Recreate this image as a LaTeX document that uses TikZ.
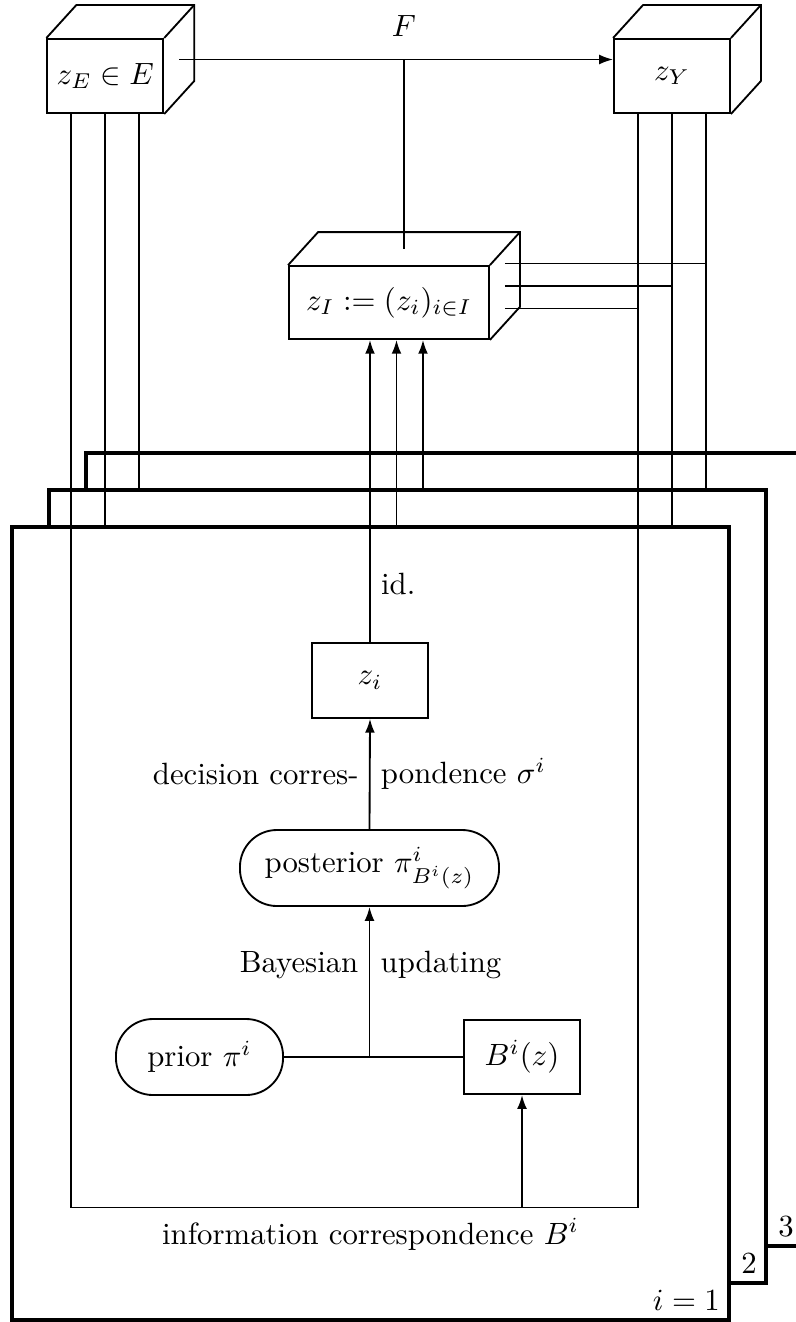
\documentclass[tikz,border=0pt]{standalone}
\usetikzlibrary{arrows.meta,calc}
\newcommand\cubeback[1]{%
  \draw (#1.north west) -- ++(30,-33) -| ($(#1.south east)+(30,-33)$) -- (#1.south east);
  \draw (#1.north east) -- ++(30,-33);}
\begin{document}
\begin{tikzpicture}[x=0.325pt,y=-0.325pt,line width=0.6pt,
  cube/.style={draw,rectangle,inner sep=0pt,minimum width=37.7pt,minimum height=24.1pt},
  box/.style={draw,rectangle,inner sep=0pt,minimum width=37.7pt,minimum height=24.3pt},
  rbox/.style={draw,rectangle,rounded corners=12pt,inner sep=0pt,minimum height=24.7pt},
  frame/.style={draw,fill=white,line width=1.35pt,inner sep=0pt,minimum width=233pt,minimum height=257.7pt},
  arr/.style={-{Latex[length=4.5pt,width=3.2pt]}}]
\useasboundingbox (0,0) rectangle (796,1322);
\clip (0,0) rectangle (796,1322);

% player frames
\coordinate (c1) at (370.5,923.5);
\node[frame] (F3) at ($(c1)+(74,-74)$) {};
\node[frame] (F2) at ($(c1)+(37,-37)$) {};
\node[frame] (F1) at (c1) {};
\node[anchor=south east] (l3) at (F3.south east) {3};
\node[anchor=south east] (l2) at (F2.south east) {2};
\node[anchor=south east] (l1) at (F1.south east) {$i=1$};

% cuboids
\node[cube] (zE) at (105.3,76) {$z_E\in E$};
\cubeback{zE}
\node[cube] (zY) at (672,76) {$z_Y$};
\cubeback{zY}
\node[cube,minimum width=65pt,minimum height=23.7pt] (zI) at (389,302.5) {$z_I:=(z_i)_{i\in I}$};
\cubeback{zI}

% inner nodes
\node[box] (zi) at (370,680.5) {$z_i$};
\node[rbox,minimum width=84.2pt] (post) at (369.5,868) {posterior $\pi^i_{B^i(z)}$};
\node[rbox,minimum width=54.3pt] (prior) at (199.5,1057) {prior $\pi^i$};
\node[box,minimum height=24.1pt] (Bz) at (522,1057) {$B^i(z)$};

% helper coordinates
\coordinate (zEs) at ($(zE.east)+(15,-16.5)$);
\coordinate (zIt) at ($(zI.north)+(15,-16.5)$);
\coordinate (zIs) at ($(zI.east)+(15,-16.5)$);
\path (zE.south) ++(-34,0) coordinate (eA) ++(34,0) coordinate (eB) ++(34,0) coordinate (eC);
\path (zY.south) ++(-34,0) coordinate (yA) ++(34,0) coordinate (yB) ++(34,0) coordinate (yC);
\path (zI.south) ++(-19,0) coordinate (iA) ++(26.5,0) coordinate (iB) ++(26.5,0) coordinate (iC);
\path (zIs) ++(0,-22.5) coordinate (s1) ++(0,22.5) coordinate (s2) ++(0,22.5) coordinate (s3);
\coordinate (bl) at (71,1207.5);
\coordinate (J) at (post.south |- prior.east);

% outcome function F
\draw[arr] (zEs) -- (zEs -| zY.west);
\draw (zIt) -- (zIt |- zEs) node[above=4pt] (Fl) {$F$};

% lines from z_I to z_Y
\draw (s1) -- (s1 -| yC);
\draw (s2) -- (s2 -| yB);
\draw (s3) -- (s3 -| yA);

% lines down from z_E and z_Y
\draw (eA) -- (eA |- bl) -- (yA |- bl) -- (yA);
\draw (eB) -- (eB |- F1.north);
\draw (eC) -- (eC |- F2.north);
\draw (yB) -- (yB |- F1.north);
\draw (yC) -- (yC |- F2.north);

% arrows up to z_I
\draw[arr] (zi.north) -- (zi.north |- zI.south);
\draw[arr] (iB |- F1.north) -- (iB);
\draw[arr] (iC |- F2.north) -- (iC);

% inner flow
\draw[arr] (Bz.south |- bl) -- (Bz.south);
\draw (prior.east) -- (Bz.west);
\draw[arr] (J) -- (post.south);
\draw[arr] (post.north) -- (zi.south);

% labels
\node[anchor=west] (idl) at ($(zi.north)!0.5!(zi.north |- F1.north)$) {id.};
\node[anchor=east] (dl1) at ($(zi.south)!0.5!(post.north)$) {decision corres-};
\node[anchor=west] (dl2) at ($(zi.south)!0.5!(post.north)$) {pondence $\sigma^i$};
\node[anchor=east] (bu1) at ($(J)!0.61!(post.south)$) {Bayesian};
\node[anchor=west] (bu2) at ($(J)!0.61!(post.south)$) {updating};
\node[below] (infol) at (F1.center |- bl) {information correspondence $B^i$};
\end{tikzpicture}
\end{document}
